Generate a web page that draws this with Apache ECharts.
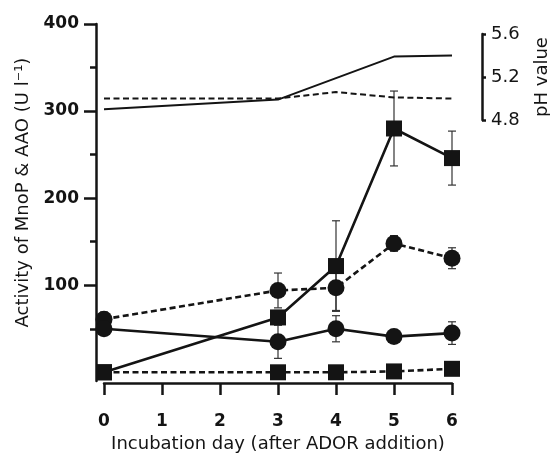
<!DOCTYPE html>
<html>
<head>
<meta charset="utf-8">
<script src="https://cdn.jsdelivr.net/npm/echarts@6/dist/echarts.min.js"></script>
<style>
  html, body { margin: 0; padding: 0; background: #fff; }
  #chart { width: 550px; height: 453px; }
</style>
</head>
<body>
<div id="chart"></div>
<script>
// incubation days
const days = [0, 3, 4, 5, 6];

// activity (U l-1)
const squareSolid = [0, 63, 122, 280, 246];
const squareSolidErr = [0, 8, 52, 43, 31];
const squareDashed = [0, 0, 0, 1, 4];
const circleDashed = [61, 94, 97, 148, 131];
const circleDashedErr = [8, 20, 26, 9, 12];
const circleSolid = [50, 35, 50, 41, 45];
const circleSolidErr = [6, 19, 15, 6, 13];

// pH values
const phSolid = [4.90, 4.99, 5.19, 5.39, 5.40];
const phDashed = [5.00, 5.00, 5.06, 5.01, 5.00];

// tick labels
const majorTicks = [100, 200, 300, 400];
const minorTicks = [50, 150, 250, 350];

const ink = '#141414';
const font = 'DejaVu Sans';

function pairs(vals) {
    return days.map((d, i) => [d, vals[i]]);
}

function errorSeries(vals, errs) {
    return {
        type: 'custom',
        xAxisIndex: 0,
        yAxisIndex: 0,
        z: 1,
        data: days.map((d, i) => [d, vals[i] - errs[i], vals[i] + errs[i]]),
        renderItem: function (params, api) {
            const lo = api.coord([api.value(0), api.value(1)]);
            const hi = api.coord([api.value(0), api.value(2)]);
            const w = 4;
            const style = { stroke: '#333', lineWidth: 1.2 };
            return {
                type: 'group',
                children: [
                    { type: 'line', shape: { x1: lo[0], y1: lo[1], x2: hi[0], y2: hi[1] }, style: style },
                    { type: 'line', shape: { x1: hi[0] - w, y1: hi[1], x2: hi[0] + w, y2: hi[1] }, style: style },
                    { type: 'line', shape: { x1: lo[0] - w, y1: lo[1], x2: lo[0] + w, y2: lo[1] }, style: style }
                ]
            };
        }
    };
}

function markSeries(vals, symbol, size, dashed) {
    return {
        type: 'line',
        xAxisIndex: 0,
        yAxisIndex: 0,
        z: 3,
        data: pairs(vals),
        symbol: symbol,
        symbolSize: size,
        itemStyle: { color: ink },
        lineStyle: { color: ink, width: 2.6, type: dashed ? [6, 3.5] : 'solid' }
    };
}

const chart = echarts.init(document.getElementById('chart'));

chart.setOption({
    animation: false,
    grid: [
        { left: 104, right: 98, top: 24, bottom: 72, containLabel: false, outerBoundsMode: 'none' },
        { left: 104, right: 98, top: 34, bottom: 333, containLabel: false, outerBoundsMode: 'none' }
    ],
    xAxis: [
        {
            gridIndex: 0,
            type: 'value',
            min: 0,
            max: 6,
            interval: 1,
            offset: 2,
            axisLine: { onZero: false, lineStyle: { color: ink, width: 2.5 } },
            axisTick: { length: 12, lineStyle: { color: ink, width: 2.5 } },
            axisLabel: { margin: 30, color: ink, fontFamily: font, fontWeight: 'bold', fontSize: 17 },
            splitLine: { show: false },
            name: 'Incubation day (after ADOR addition)',
            nameLocation: 'middle',
            nameGap: 44,
            nameTextStyle: { color: ink, fontFamily: font, fontSize: 18 }
        },
        {
            gridIndex: 1,
            type: 'value',
            min: 0,
            max: 6,
            show: false
        }
    ],
    yAxis: [
        {
            gridIndex: 0,
            type: 'value',
            position: 'left',
            min: -10,
            max: 400,
            offset: 8,
            axisLine: { show: true, onZero: false, lineStyle: { color: ink, width: 2.5 } },
            axisTick: { show: true, length: 12, customValues: majorTicks, lineStyle: { color: ink, width: 2.5 } },
            axisLabel: { customValues: majorTicks, margin: 17, color: ink, fontFamily: font, fontWeight: 'bold', fontSize: 17 },
            splitLine: { show: false },
            name: 'Activity of MnoP & AAO (U l\u207B\u00B9)',
            nameLocation: 'middle',
            nameGap: 63,
            nameTextStyle: { color: ink, fontFamily: font, fontSize: 18, padding: [0, 0, 0, 20] }
        },
        {
            gridIndex: 0,
            type: 'value',
            position: 'left',
            min: -10,
            max: 400,
            offset: 8,
            axisLine: { show: false, onZero: false },
            axisTick: { show: true, length: 6, customValues: minorTicks, lineStyle: { color: ink, width: 2.5 } },
            axisLabel: { show: false },
            splitLine: { show: false }
        },
        {
            gridIndex: 1,
            type: 'value',
            position: 'right',
            min: 4.8,
            max: 5.6,
            interval: 0.4,
            offset: 30,
            axisLine: { show: true, onZero: false, lineStyle: { color: ink, width: 2.5 } },
            axisTick: { show: true, length: 4, lineStyle: { color: ink, width: 2.5 } },
            axisLabel: { margin: 9, color: ink, fontFamily: font, fontSize: 18, formatter: v => v.toFixed(1) },
            splitLine: { show: false },
            name: 'pH value',
            nameLocation: 'middle',
            nameGap: 51,
            nameTextStyle: { color: ink, fontFamily: font, fontSize: 18 }
        }
    ],
    series: [
        {
            type: 'line',
            xAxisIndex: 1,
            yAxisIndex: 2,
            data: pairs(phSolid),
            showSymbol: false,
            lineStyle: { color: ink, width: 2 }
        },
        {
            type: 'line',
            xAxisIndex: 1,
            yAxisIndex: 2,
            data: pairs(phDashed),
            showSymbol: false,
            lineStyle: { color: ink, width: 2, type: [6, 3.5] }
        },
        errorSeries(squareSolid, squareSolidErr),
        errorSeries(circleDashed, circleDashedErr),
        errorSeries(circleSolid, circleSolidErr),
        markSeries(squareDashed, 'rect', 16, true),
        markSeries(circleDashed, 'circle', 17, true),
        markSeries(circleSolid, 'circle', 17, false),
        markSeries(squareSolid, 'rect', 16, false)
    ]
});
</script>
</body>
</html>
